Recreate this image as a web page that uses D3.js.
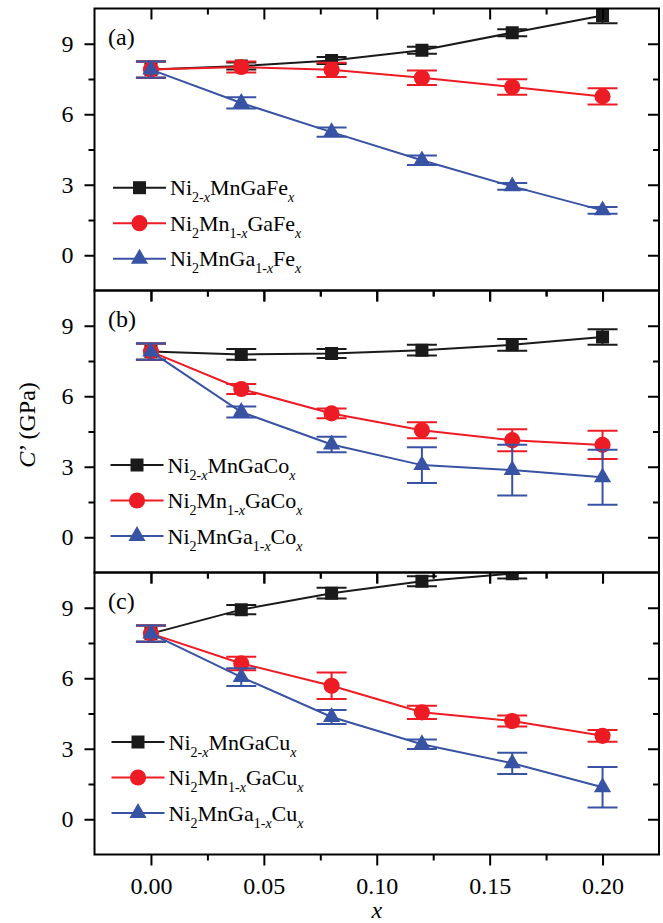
<!DOCTYPE html>
<html>
<head>
<meta charset="utf-8">
<script src="https://cdn.jsdelivr.net/npm/d3@7"></script>
<style>
  body { margin: 0; background: #fff; }
  svg { display: block; }
  text { font-family: "Liberation Serif", "Times New Roman", serif; fill: #000; }
</style>
</head>
<body>
<svg id="chart" width="663" height="923"></svg>
<script>
// ---- data ----
const xValues = [0, 0.04, 0.08, 0.12, 0.16, 0.20];
const xMajorTicks = [0, 0.05, 0.10, 0.15, 0.20];
const xMinorTicks = [0.025, 0.075, 0.125, 0.175];
const yMajorTicks = [0, 3, 6, 9];
const yMinorTicks = [1.5, 4.5, 7.5];
const panelLetters = ["(a)", "(b)", "(c)"];
const dopants = ["Fe", "Co", "Cu"];

// C' (GPa) and error for substitution on the Ni, Mn and Ga sites
const feNiSite = [7.9, 8.05, 8.29, 8.72, 9.47, 10.2];
const feNiSiteErr = [0.35, 0.15, 0.15, 0.15, 0.15, 0.33];
const feMnSite = [7.9, 8.01, 7.89, 7.55, 7.16, 6.76];
const feMnSiteErr = [0.35, 0.23, 0.30, 0.31, 0.33, 0.35];
const feGaSite = [7.9, 6.48, 5.24, 4.04, 2.93, 1.91];
const feGaSiteErr = [0.35, 0.24, 0.20, 0.20, 0.14, 0.14];

const coNiSite = [7.9, 7.78, 7.82, 7.96, 8.19, 8.52];
const coNiSiteErr = [0.35, 0.23, 0.19, 0.23, 0.25, 0.33];
const coMnSite = [7.9, 6.31, 5.27, 4.55, 4.13, 3.93];
const coMnSiteErr = [0.35, 0.21, 0.21, 0.34, 0.47, 0.60];
const coGaSite = [7.9, 5.33, 3.95, 3.07, 2.86, 2.55];
const coGaSiteErr = [0.35, 0.23, 0.33, 0.76, 1.08, 1.17];

const cuNiSite = [7.9, 8.92, 9.62, 10.13, 10.45, 10.8];
const cuNiSiteErr = [0.35, 0.20, 0.23, 0.21, 0.20, 0.22];
const cuMnSite = [7.9, 6.63, 5.68, 4.55, 4.18, 3.55];
const cuMnSiteErr = [0.35, 0.29, 0.56, 0.28, 0.23, 0.25];
const cuGaSite = [7.9, 6.05, 4.35, 3.19, 2.38, 1.36];
const cuGaSiteErr = [0.35, 0.38, 0.30, 0.20, 0.45, 0.86];

// legend formulas: [text, kind] with kind "" = normal, "s" = subscript, "si" = italic subscript
const niSiteFormula = [["Ni", ""], ["2-", "s"], ["x", "si"], ["MnGa", ""], ["D", ""], ["x", "si"]];
const mnSiteFormula = [["Ni", ""], ["2", "s"], ["Mn", ""], ["1-", "s"], ["x", "si"], ["Ga", ""], ["D", ""], ["x", "si"]];
const gaSiteFormula = [["Ni", ""], ["2", "s"], ["MnGa", ""], ["1-", "s"], ["x", "si"], ["D", ""], ["x", "si"]];

const panels = [
  { letter: panelLetters[0], dopant: dopants[0], series: [
      { v: feNiSite, e: feNiSiteErr, f: niSiteFormula },
      { v: feMnSite, e: feMnSiteErr, f: mnSiteFormula },
      { v: feGaSite, e: feGaSiteErr, f: gaSiteFormula } ] },
  { letter: panelLetters[1], dopant: dopants[1], series: [
      { v: coNiSite, e: coNiSiteErr, f: niSiteFormula },
      { v: coMnSite, e: coMnSiteErr, f: mnSiteFormula },
      { v: coGaSite, e: coGaSiteErr, f: gaSiteFormula } ] },
  { letter: panelLetters[2], dopant: dopants[2], series: [
      { v: cuNiSite, e: cuNiSiteErr, f: niSiteFormula },
      { v: cuMnSite, e: cuMnSiteErr, f: mnSiteFormula },
      { v: cuGaSite, e: cuGaSiteErr, f: gaSiteFormula } ] }
];

// ---- layout & style ----
const seriesStyle = [
  { color: "#1a1a1a", symbol: d3.symbolSquare, size: 169 },
  { color: "#ed1c24", symbol: d3.symbolCircle, size: 205 },
  { color: "#3953a4", symbol: d3.symbolTriangle, size: 128 }
];
const left = 94.5, right = 659;
const panelTop0 = 8.5, panelH = 282;
const legendRowTop = [179.2, 174.5, 169.5];
const legendRowGap = 35.5;
const legendX = [113, 110.5, 111.5];
const capHalf = 15;

const svg = d3.select("#chart");
const x = d3.scaleLinear().domain([-0.025, 0.225]).range([left, right]);

panels.forEach((p, pi) => {
  const top = panelTop0 + pi * panelH;
  const bottom = top + panelH;
  const y = d3.scaleLinear().domain([-1.5, 10.5]).range([bottom, top]);
  const g = svg.append("g");

  const clipId = "clip" + pi;
  svg.append("clipPath").attr("id", clipId)
    .append("rect").attr("x", left).attr("y", top)
    .attr("width", right - left).attr("height", panelH);

  const plot = g.append("g").attr("clip-path", `url(#${clipId})`);
  const line = d3.line().x((d, i) => x(xValues[i])).y(d => y(d));

  p.series.forEach((s, si) => {
    const st = seriesStyle[si];
    const sg = plot.append("g");
    sg.append("path").datum(s.v).attr("d", line)
      .attr("fill", "none").attr("stroke", st.color).attr("stroke-width", 2);
    const eb = sg.append("g").attr("stroke", st.color).attr("stroke-width", 2);
    s.v.forEach((v, i) => {
      const cx = x(xValues[i]);
      const y1 = y(v + s.e[i]), y2 = y(v - s.e[i]);
      eb.append("line").attr("x1", cx).attr("x2", cx).attr("y1", y1).attr("y2", y2);
      eb.append("line").attr("x1", cx - capHalf).attr("x2", cx + capHalf).attr("y1", y1).attr("y2", y1);
      eb.append("line").attr("x1", cx - capHalf).attr("x2", cx + capHalf).attr("y1", y2).attr("y2", y2);
    });
    sg.selectAll("path.mk").data(s.v).join("path").attr("class", "mk")
      .attr("d", d3.symbol().type(st.symbol).size(st.size))
      .attr("transform", (d, i) => `translate(${x(xValues[i])},${y(d)})`)
      .attr("fill", st.color);
  });

  // axes: bottom/left ticks point out, top/right ticks point in
  const noLabel = () => "";
  const addAxis = (axis, tx, ty) => {
    const a = g.append("g").attr("transform", `translate(${tx},${ty})`).call(axis);
    a.select(".domain").remove();
    a.selectAll(".tick line").attr("stroke", "#000").attr("stroke-width", 2);
    return a;
  };
  addAxis(d3.axisTop(x).tickValues(xMajorTicks).tickSize(-11).tickFormat(noLabel), 0, top);
  addAxis(d3.axisTop(x).tickValues(xMinorTicks).tickSize(-6).tickFormat(noLabel), 0, top);
  const bx = addAxis(d3.axisBottom(x).tickValues(xMajorTicks).tickSize(11).tickPadding(11)
      .tickFormat(pi === 2 ? d3.format(".2f") : noLabel), 0, bottom);
  bx.selectAll("text").attr("font-size", 24);
  addAxis(d3.axisBottom(x).tickValues(xMinorTicks).tickSize(6).tickFormat(noLabel), 0, bottom);
  const ly = addAxis(d3.axisLeft(y).tickValues(yMajorTicks).tickSize(10).tickPadding(11)
      .tickFormat(d3.format("d")), left, 0);
  ly.selectAll("text").attr("font-size", 24);
  addAxis(d3.axisLeft(y).tickValues(yMinorTicks).tickSize(6).tickFormat(noLabel), left, 0);
  addAxis(d3.axisRight(y).tickValues(yMajorTicks).tickSize(-11).tickFormat(noLabel), right, 0);
  addAxis(d3.axisRight(y).tickValues(yMinorTicks).tickSize(-6).tickFormat(noLabel), right, 0);

  g.append("rect").attr("x", left).attr("y", top)
    .attr("width", right - left).attr("height", panelH)
    .attr("fill", "none").attr("stroke", "#000").attr("stroke-width", 2);

  // panel letter
  g.append("text").attr("x", 108).attr("y", top + 36.5)
    .attr("font-size", 24).text(p.letter);

  // legend
  p.series.forEach((s, si) => {
    const st = seriesStyle[si];
    const ry = top + legendRowTop[pi] + si * legendRowGap;
    const lx = legendX[pi];
    g.append("line").attr("x1", lx).attr("x2", lx + 53).attr("y1", ry).attr("y2", ry)
      .attr("stroke", st.color).attr("stroke-width", 2);
    g.append("path").attr("d", d3.symbol().type(st.symbol).size(st.size))
      .attr("transform", `translate(${lx + 26.5},${ry})`).attr("fill", st.color);
    const t = g.append("text").attr("x", lx + 57).attr("y", ry + 7.5).attr("font-size", 22);
    let shift = 0;
    s.f.forEach(([txt, kind]) => {
      const want = kind === "" ? 0 : 7;
      const span = t.append("tspan").attr("dy", want - shift)
        .text(txt === "D" ? p.dopant : txt);
      if (kind !== "") span.attr("font-size", 14);
      if (kind === "si") span.attr("font-style", "italic");
      shift = want;
    });
  });
});

// axis titles
const yTitle = svg.append("text")
  .attr("transform", "translate(35,425) rotate(-90)")
  .attr("text-anchor", "middle").attr("font-size", 24);
yTitle.append("tspan").attr("font-style", "italic").text("C");
yTitle.append("tspan").text("\u2019 (GPa)");

svg.append("text").attr("x", x(0.10)).attr("y", 918)
  .attr("text-anchor", "middle").attr("font-size", 24)
  .attr("font-style", "italic").text("x");
</script>
</body>
</html>
